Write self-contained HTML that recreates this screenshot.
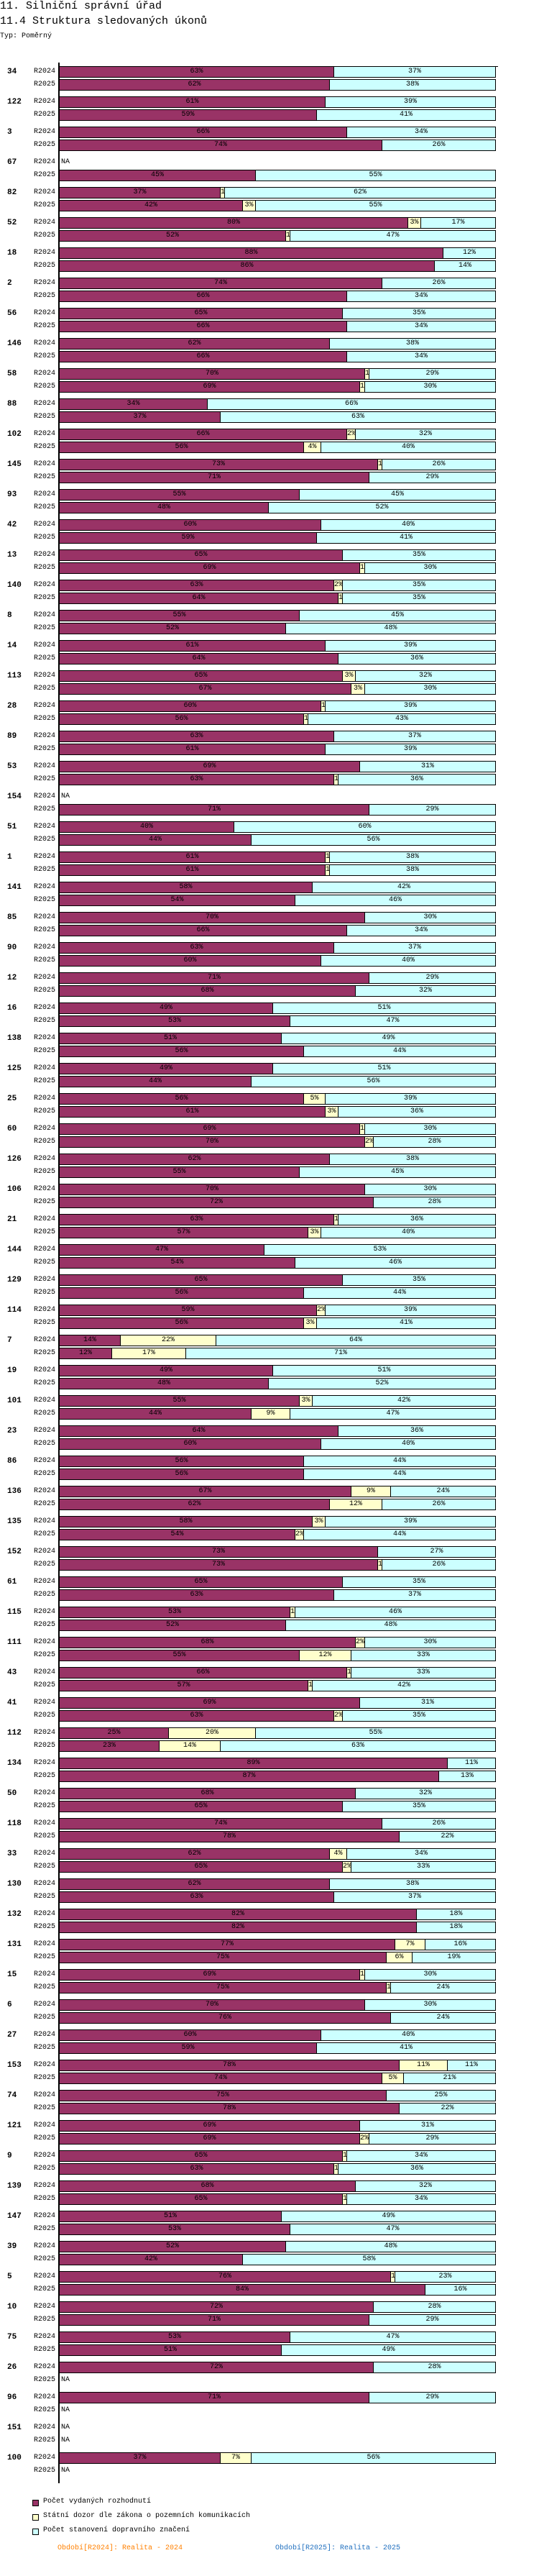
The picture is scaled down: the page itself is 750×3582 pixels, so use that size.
<!DOCTYPE html>
<html><head><meta charset="utf-8">
<style>
html,body{margin:0;padding:0;background:#fff;}
body{width:750px;height:3582px;position:relative;overflow:hidden;font-family:"Liberation Mono","DejaVu Sans Mono",monospace;color:#000;}
.abs{position:absolute;white-space:nowrap;}
.seg{position:absolute;box-sizing:border-box;border:1px solid #000;overflow:hidden;font-size:10px;line-height:14px;text-align:center;}
.t1{font-size:15px;}
.lbl{font-size:10px;line-height:12px;}
.grp{font-size:11px;font-weight:bold;line-height:12px;}
</style></head>
<body>
<div class="abs t1" style="left:0;top:0;">11. Silniční správní úřad</div>
<div class="abs t1" style="left:0;top:21px;">11.4 Struktura sledovaných úkonů</div>
<div class="abs lbl" style="left:0;top:45px;">Typ: Poměrný</div>
<div id="chart"></div>
<div class="abs" style="left:81px;top:87px;width:2px;height:3366px;background:#000;"></div>
<div class="abs" style="left:81px;top:92px;width:612px;height:1px;background:#000;"></div>

<div class="abs" style="left:45px;top:3476px;width:7px;height:7px;border:1px solid #000;background:#993366;"></div>
<div class="abs lbl" style="left:60px;top:3473px;">Počet vydaných rozhodnutí</div>
<div class="abs" style="left:45px;top:3496px;width:7px;height:7px;border:1px solid #000;background:#ffffcc;"></div>
<div class="abs lbl" style="left:60px;top:3493px;">Státní dozor dle zákona o pozemních komunikacích</div>
<div class="abs" style="left:45px;top:3516px;width:7px;height:7px;border:1px solid #000;background:#ccffff;"></div>
<div class="abs lbl" style="left:60px;top:3513px;">Počet stanovení dopravního značení</div>
<div class="abs lbl" style="left:80px;top:3538px;color:#ff8000;">Období[R2024]: Realita - 2024</div>
<div class="abs lbl" style="left:383px;top:3538px;color:#1f6fbf;">Období[R2025]: Realita - 2025</div>

<script>
const groups = ["34","122","3","67","82","52","18","2","56","146","58","88","102","145","93","42","13","140","8","14","113","28","89","53","154","51","1","141","85","90","12","16","138","125","25","60","126","106","21","144","129","114","7","19","101","23","86","136","135","152","61","115","111","43","41","112","134","50","118","33","130","132","131","15","6","27","153","74","121","9","139","147","39","5","10","75","26","96","151","100"];
const periods = ["R2024","R2025"];
// [decisions, supervision, signage] in %, null = NA
const values2024 = [[63,0,37],[61,0,39],[66,0,34],null,[37,1,62],[80,3,17],[88,0,12],[74,0,26],[65,0,35],[62,0,38],[70,1,29],[34,0,66],[66,2,32],[73,1,26],[55,0,45],[60,0,40],[65,0,35],[63,2,35],[55,0,45],[61,0,39],[65,3,32],[60,1,39],[63,0,37],[69,0,31],null,[40,0,60],[61,1,38],[58,0,42],[70,0,30],[63,0,37],[71,0,29],[49,0,51],[51,0,49],[49,0,51],[56,5,39],[69,1,30],[62,0,38],[70,0,30],[63,1,36],[47,0,53],[65,0,35],[59,2,39],[14,22,64],[49,0,51],[55,3,42],[64,0,36],[56,0,44],[67,9,24],[58,3,39],[73,0,27],[65,0,35],[53,1,46],[68,2,30],[66,1,33],[69,0,31],[25,20,55],[89,0,11],[68,0,32],[74,0,26],[62,4,34],[62,0,38],[82,0,18],[77,7,16],[69,1,30],[70,0,30],[60,0,40],[78,11,11],[75,0,25],[69,0,31],[65,1,34],[68,0,32],[51,0,49],[52,0,48],[76,1,23],[72,0,28],[53,0,47],[72,0,28],[71,0,29],null,[37,7,56]];
const values2025 = [[62,0,38],[59,0,41],[74,0,26],[45,0,55],[42,3,55],[52,1,47],[86,0,14],[66,0,34],[66,0,34],[66,0,34],[69,1,30],[37,0,63],[56,4,40],[71,0,29],[48,0,52],[59,0,41],[69,1,30],[64,1,35],[52,0,48],[64,0,36],[67,3,30],[56,1,43],[61,0,39],[63,1,36],[71,0,29],[44,0,56],[61,1,38],[54,0,46],[66,0,34],[60,0,40],[68,0,32],[53,0,47],[56,0,44],[44,0,56],[61,3,36],[70,2,28],[55,0,45],[72,0,28],[57,3,40],[54,0,46],[56,0,44],[56,3,41],[12,17,71],[48,0,52],[44,9,47],[60,0,40],[56,0,44],[62,12,26],[54,2,44],[73,1,26],[63,0,37],[52,0,48],[55,12,33],[57,1,42],[63,2,35],[23,14,63],[87,0,13],[65,0,35],[78,0,22],[65,2,33],[63,0,37],[82,0,18],[75,6,19],[75,1,24],[76,0,24],[59,0,41],[74,5,21],[78,0,22],[69,2,29],[63,1,36],[65,1,34],[53,0,47],[42,0,58],[84,0,16],[71,0,29],[51,0,49],null,null,null,null];
const seriesNames = ["decisions","supervision","signage"];
const colors = ["#993366","#ffffcc","#ccffff"];

const X0 = 82, XW = 606.5, Y0 = 92, GROUP_PITCH = 42, ROW_PITCH = 18, BAR_H = 16;
function xScale(p){ return X0 + p/100*XW; }
function yScale(g,r){ return Y0 + g*GROUP_PITCH + r*ROW_PITCH; }

const chart = document.getElementById('chart');
const series = [values2024, values2025];
groups.forEach((name,g)=>{
  const gl = document.createElement('div');
  gl.className='abs grp';
  
  
  gl.style.left='10px'; gl.style.top=(yScale(g,0)+2)+'px';
  gl.textContent=name;
  chart.appendChild(gl);
  periods.forEach((per,r)=>{
    const y = yScale(g,r);
    const rl = document.createElement('div');
    rl.className='abs lbl';
    
    
    rl.style.left='47px'; rl.style.top=(y+2)+'px';
    rl.textContent=per;
    chart.appendChild(rl);
    const v = series[r][g];
    if(!v){
      const na = document.createElement('div');
      na.className='abs lbl';
      
      
      na.style.left='85px'; na.style.top=(y+2)+'px';
      na.textContent='NA';
      chart.appendChild(na);
      return;
    }
    let cum = 0;
    v.forEach((val,s)=>{
      if(val<=0) return;
      const xa = Math.round(xScale(cum)), xb = Math.round(xScale(cum+val));
      cum += val;
      const seg = document.createElement('div');
      seg.className='seg';
      
      
      seg.style.left=xa+'px'; seg.style.top=y+'px';
      seg.style.width=(xb-xa+1)+'px'; seg.style.height=BAR_H+'px';
      seg.style.background=colors[s];
      seg.textContent=val+'%';
      chart.appendChild(seg);
    });
  });
});
</script>
</body></html>
